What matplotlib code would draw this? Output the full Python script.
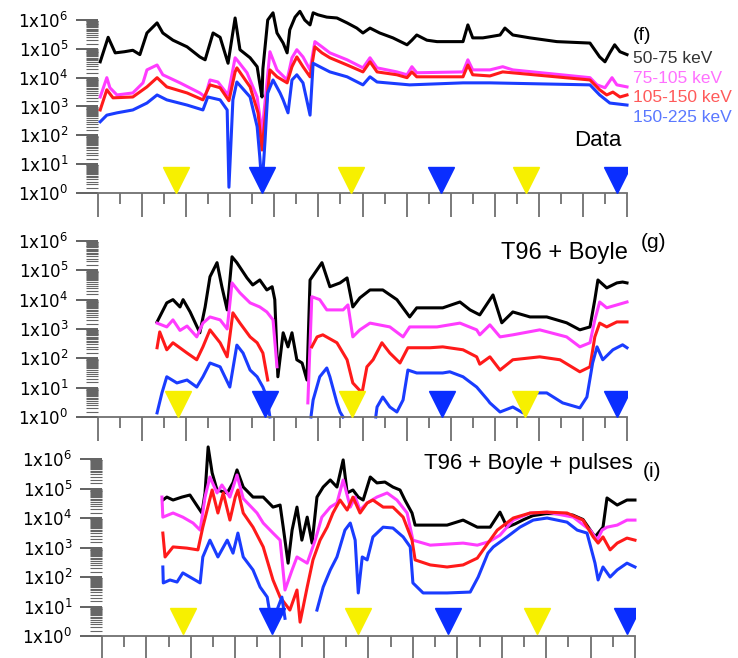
"""
Three stacked panels of energetic particle flux (log scale) for four energy
channels: observed data, T96 + Boyle model, and T96 + Boyle + pulses model.
Values are log10(flux) read off the original figure; time axis is in hours.
"""
import numpy as np
import matplotlib
matplotlib.use("Agg")
import matplotlib.pyplot as plt
from matplotlib.ticker import LogLocator, MultipleLocator, NullFormatter, FixedLocator

nan = float("nan")

CHANNELS = ["50-75 keV", "75-105 keV", "105-150 keV", "150-225 keV"]

# ---------------- panel (f): Data ----------------
F_50 = [(0.05, 4.55), (0.23, 5.4), (0.39, 4.86), (0.6, 4.9), (0.79, 4.95), (0.95, 4.8), (1.11, 5.55),
        (1.34, 5.9), (1.47, 5.55), (1.70, 5.3), (2.02, 5.07), (2.31, 4.72), (2.43, 4.62), (2.61, 5.55),
        (2.77, 5.4), (2.95, 4.5), (3.11, 6.07), (3.22, 4.97), (3.45, 4.69), (3.61, 4.38), (3.67, 3.8),
        (3.72, 3.33), (3.74, 4.3), (3.85, 6.0), (3.97, 6.25), (4.06, 5.55), (4.20, 5.2), (4.29, 4.86),
        (4.35, 5.66), (4.47, 6.1), (4.58, 6.3), (4.69, 6.0), (4.81, 5.83), (4.88, 6.25), (4.99, 6.18),
        (5.19, 6.1), (5.42, 6.07), (5.65, 5.9), (5.87, 5.72), (6.01, 5.55), (6.17, 5.72), (6.39, 5.55),
        (6.69, 5.38), (7.01, 5.14), (7.12, 5.3), (7.23, 5.48), (7.46, 5.3), (7.69, 5.25), (8.28, 5.25),
        (8.39, 5.83), (8.50, 5.38), (8.73, 5.38), (8.89, 5.42), (9.12, 5.48), (9.23, 5.72), (9.41, 5.48),
        (9.80, 5.38), (10.41, 5.25), (11.16, 5.2), (11.38, 4.72), (11.50, 4.55), (11.61, 4.86),
        (11.72, 5.14), (11.84, 4.9), (12.0, 4.8)]
F_75 = [(0.05, 3.33), (0.20, 4.0), (0.27, 3.65), (0.43, 3.4), (0.79, 3.47), (1.02, 3.82), (1.11, 4.27),
        (1.34, 4.44), (1.47, 4.1), (1.86, 3.82), (2.31, 3.47), (2.43, 3.33), (2.54, 3.92), (2.72, 3.85),
        (2.95, 3.4), (3.11, 4.69), (3.15, 4.62), (3.38, 4.17), (3.61, 3.33), (3.72, 2.08), (3.83, 3.8),
        (3.90, 4.9), (4.06, 4.27), (4.29, 3.92), (4.40, 4.69), (4.51, 4.97), (4.65, 4.72), (4.81, 4.27),
        (4.92, 5.25), (5.08, 5.07), (5.26, 4.86), (5.65, 4.62), (6.01, 4.34), (6.17, 4.69), (6.33, 4.34),
        (6.78, 4.2), (7.01, 4.1), (7.12, 4.38), (7.23, 4.17), (8.28, 4.2), (8.39, 4.62), (8.50, 4.27),
        (8.89, 4.27), (9.18, 4.38), (9.41, 4.27), (11.16, 4.0), (11.32, 3.75), (11.50, 3.65),
        (11.66, 4.0), (11.77, 3.75), (12.0, 3.68)]
F_105 = [(0.05, 2.88), (0.20, 3.58), (0.34, 3.3), (0.79, 3.33), (1.11, 3.68), (1.34, 4.0), (1.56, 3.68),
         (2.02, 3.47), (2.38, 3.23), (2.54, 3.75), (2.77, 3.65), (2.97, 3.2), (3.11, 4.2), (3.15, 4.34),
         (3.45, 3.68), (3.63, 2.78), (3.72, 1.49), (3.83, 3.23), (3.90, 4.27), (4.06, 4.03), (4.29, 3.82),
         (4.40, 4.38), (4.51, 4.72), (4.65, 4.38), (4.81, 4.03), (4.92, 5.07), (5.08, 4.86), (5.26, 4.69),
         (5.65, 4.44), (6.01, 4.2), (6.17, 4.55), (6.33, 4.2), (6.78, 4.1), (7.01, 4.0), (7.12, 4.2),
         (7.23, 4.03), (8.28, 4.03), (8.39, 4.44), (8.50, 4.1), (8.89, 4.06), (9.18, 4.2), (11.16, 3.92),
         (11.38, 3.58), (11.54, 3.4), (11.68, 3.5), (11.84, 3.33), (12.0, 3.4)]
F_150 = [(0.05, 2.47), (0.20, 2.7), (0.43, 2.78), (0.79, 2.88), (1.11, 3.12), (1.34, 3.4), (1.56, 3.23),
         (2.02, 3.05), (2.38, 2.88), (2.49, 3.33), (2.77, 3.23), (2.93, 2.88), (2.97, 0.2), (3.06, 3.23),
         (3.15, 3.85), (3.45, 3.33), (3.61, 2.3), (3.67, 1.25), (3.72, 0.2), (3.79, 1.84), (3.85, 3.47),
         (3.97, 3.92), (4.13, 3.47), (4.20, 3.23), (4.31, 2.78), (4.40, 3.92), (4.51, 4.1), (4.65, 3.82),
         (4.81, 2.7), (4.88, 4.5), (5.03, 4.38), (5.26, 4.2), (5.65, 4.03), (6.01, 3.75), (6.17, 4.03),
         (6.33, 3.85), (7.07, 3.75), (8.28, 3.82), (8.89, 3.82), (11.16, 3.75), (11.38, 3.4),
         (11.61, 3.12), (12.0, 3.05)]

# ---------------- panel (g): T96 + Boyle ----------------
G_50 = [(1.34, 3.24), (1.56, 3.89), (1.70, 4.0), (1.86, 3.75), (1.93, 4.0), (2.09, 3.58), (2.31, 2.87),
        (2.43, 3.75), (2.54, 4.78), (2.70, 5.26), (2.81, 4.44), (2.93, 3.65), (3.04, 5.46), (3.15, 5.26),
        (3.38, 4.74), (3.51, 4.5), (3.67, 4.67), (3.83, 4.33), (3.95, 4.44), (4.01, 4.0), (4.08, 1.37),
        (4.20, 2.87), (4.31, 2.39), (4.40, 2.87), (4.51, 1.95), (4.63, 1.84), (4.74, 1.26), (4.81, 4.67),
        (4.97, 5.02), (5.08, 5.26), (5.26, 4.44), (5.49, 4.57), (5.65, 4.74), (5.78, 3.75), (5.94, 4.06),
        (6.17, 4.33), (6.46, 4.33), (6.78, 4.0), (7.07, 3.41), (7.23, 3.72), (7.82, 3.72), (8.21, 3.92),
        (8.44, 3.65), (8.66, 3.48), (8.96, 4.16), (9.16, 3.21), (9.41, 3.58), (9.80, 3.41),
        (10.18, 3.41), (10.63, 3.21), (10.93, 2.97), (11.16, 3.07), (11.27, 4.0), (11.34, 4.67),
        (11.54, 4.4), (11.77, 4.57), (11.90, 4.6), (12.0, 4.57)]
G_75 = [(1.34, 3.2), (1.56, 3.07), (1.70, 3.31), (1.86, 2.95), (2.02, 3.1), (2.24, 2.73), (2.38, 3.2),
        (2.54, 3.41), (2.77, 3.31), (2.93, 3.0), (3.04, 4.57), (3.22, 4.23), (3.45, 3.89), (3.67, 3.75),
        (3.83, 3.58), (3.97, 3.31), (4.06, 1.71), (4.10, nan), (4.76, 0.48), (4.85, 4.1), (5.03, 4.0),
        (5.19, 3.65), (5.56, 3.65), (5.67, 3.82), (5.78, 2.73), (5.94, 2.97), (6.17, 3.2), (6.62, 3.07),
        (6.92, 2.73), (7.07, 3.07), (7.69, 3.07), (8.21, 3.2), (8.59, 2.97), (8.66, 2.8), (8.89, 3.14),
        (9.12, 2.73), (9.41, 2.8), (10.02, 2.97), (10.63, 2.73), (10.93, 2.39), (11.16, 2.53),
        (11.27, 3.31), (11.38, 3.92), (11.54, 3.72), (11.77, 3.82), (12.0, 3.92)]
G_105 = [(1.34, 2.36), (1.40, 2.9), (1.56, 2.29), (1.70, 2.53), (2.02, 2.18), (2.24, 1.95), (2.38, 2.39),
         (2.54, 2.97), (2.77, 2.53), (2.93, 2.05), (3.06, 3.55), (3.22, 3.2), (3.45, 2.73), (3.61, 2.53),
         (3.74, 2.18), (3.85, 1.26), (3.90, nan), (4.85, 2.39), (4.97, 2.73), (5.10, 2.8), (5.42, 2.53),
         (5.65, 1.95), (5.78, 1.16), (5.99, 0.82), (6.10, 1.71), (6.24, 1.95), (6.44, 2.53), (6.62, 2.18),
         (6.85, 1.84), (7.03, 2.36), (7.53, 2.36), (7.82, 2.39), (8.28, 2.29), (8.59, 2.05), (8.66, 1.8),
         (8.89, 2.05), (9.12, 1.6), (9.41, 1.95), (10.02, 2.05), (10.48, 1.95), (10.93, 1.54),
         (11.16, 1.71), (11.27, 2.73), (11.38, 3.2), (11.54, 3.07), (11.77, 3.24), (12.0, 3.24)]
G_150 = [(1.34, 0.14), (1.45, 0.82), (1.56, 1.37), (1.79, 1.16), (2.02, 1.26), (2.24, 1.02), (2.38, 1.37),
         (2.54, 1.84), (2.77, 1.71), (2.99, 1.02), (3.15, 2.45), (3.29, 2.18), (3.45, 1.6), (3.61, 1.37),
         (3.74, 1.02), (3.83, 0.68), (3.90, 0.0), (3.95, nan), (4.83, 0.0), (4.88, 0.58), (5.03, 1.37),
         (5.19, 1.67), (5.26, 1.37), (5.42, 0.48), (5.49, 0.17), (5.56, 0.0), (5.60, nan), (6.30, 0.0),
         (6.33, 0.34), (6.46, 0.68), (6.62, 0.34), (6.78, 0.17), (6.92, 0.58), (7.03, 1.6), (7.23, 1.5),
         (7.82, 1.5), (7.98, 1.54), (8.28, 1.37), (8.59, 1.02), (8.84, 0.58), (8.89, 0.48), (9.12, 0.17),
         (9.41, 0.34), (9.64, 0.14), (9.95, 0.82), (10.18, 0.82), (10.54, 0.48), (10.93, 0.31),
         (11.09, 0.68), (11.22, 1.84), (11.32, 2.39), (11.45, 1.95), (11.68, 2.29), (11.90, 2.46),
         (12.0, 2.36)]

# ---------------- panel (i): T96 + Boyle + pulses ----------------
I_50 = [(1.37, 4.61), (1.46, 4.71), (1.60, 4.61), (1.80, 4.71), (1.98, 4.78), (2.16, 4.37), (2.25, 4.17),
        (2.32, 4.85), (2.39, 6.41), (2.48, 5.53), (2.59, 4.95), (2.82, 4.85), (2.95, 5.2), (3.04, 5.63),
        (3.18, 5.05), (3.40, 4.71), (3.63, 4.71), (3.85, 4.37), (4.01, 4.44), (4.08, 3.69), (4.19, 2.47),
        (4.28, 3.59), (4.39, 4.37), (4.50, 3.25), (4.62, 4.03), (4.73, 3.15), (4.84, 4.71), (4.98, 5.05),
        (5.14, 5.29), (5.29, 5.05), (5.43, 5.97), (5.52, 4.85), (5.65, 4.95), (5.77, 4.71), (5.88, 4.61),
        (6.04, 5.39), (6.19, 5.19), (6.37, 5.22), (6.55, 5.05), (6.71, 4.95), (6.82, 4.61), (6.98, 4.17),
        (7.05, 3.76), (7.39, 3.76), (7.77, 3.76), (8.13, 3.93), (8.45, 3.69), (8.74, 3.69), (8.96, 4.2),
        (9.12, 3.69), (9.3, 3.8), (9.5, 3.95), (9.7, 4.08), (10.0, 4.15), (10.3, 4.15), (10.6, 4.1),
        (10.83, 3.95), (11.10, 3.36), (11.28, 3.69), (11.37, 4.68), (11.60, 4.44), (11.82, 4.61),
        (12.0, 4.61)]
I_75 = [(1.35, 4.71), (1.37, 4.03), (1.60, 4.17), (1.82, 4.03), (2.05, 3.83), (2.21, 3.59), (2.32, 4.71),
        (2.43, 5.39), (2.59, 4.85), (2.70, 5.12), (2.88, 4.71), (3.04, 5.46), (3.18, 4.66), (3.49, 4.17),
        (3.63, 3.83), (3.85, 3.49), (4.01, 3.25), (4.12, 1.56), (4.28, 2.24), (4.39, 2.68), (4.62, 2.47),
        (4.80, 3.25), (4.95, 4.03), (5.14, 4.37), (5.29, 4.51), (5.43, 5.29), (5.59, 4.37), (5.70, 4.71),
        (5.81, 4.27), (5.97, 4.51), (6.19, 4.71), (6.42, 4.85), (6.64, 4.61), (6.87, 4.17), (7.00, 3.25),
        (7.39, 3.08), (8.13, 3.15), (8.45, 3.08), (8.72, 3.2), (8.96, 3.42), (9.26, 3.93), (9.64, 4.17),
        (10.02, 4.2), (10.61, 4.03), (10.99, 3.59), (11.15, 3.25), (11.26, 3.59), (11.37, 3.69),
        (11.60, 3.76), (11.82, 3.93), (12.0, 3.93)]
I_105 = [(1.37, 3.49), (1.42, 2.68), (1.60, 3.02), (1.91, 2.98), (2.16, 2.92), (2.27, 3.69), (2.48, 4.95),
         (2.61, 4.17), (2.73, 4.85), (2.88, 3.93), (3.00, 4.71), (3.06, 4.95), (3.18, 4.17), (3.40, 3.69),
         (3.63, 3.02), (3.85, 1.9), (4.01, 1.32), (4.23, 0.88), (4.39, 1.56), (4.46, 0.47), (4.62, 1.66),
         (4.75, 2.58), (4.91, 3.25), (5.07, 3.69), (5.20, 4.17), (5.36, 4.61), (5.52, 4.27), (5.65, 4.71),
         (5.81, 4.17), (5.97, 4.51), (6.10, 4.61), (6.33, 4.37), (6.55, 4.37), (6.78, 4.03), (6.98, 3.25),
         (7.05, 2.58), (7.39, 2.41), (7.77, 2.34), (8.13, 2.41), (8.45, 2.64), (8.69, 3.15), (8.90, 3.59),
         (9.26, 4.0), (9.64, 4.17), (10.02, 4.2), (10.47, 4.17), (10.83, 3.93), (11.06, 3.36),
         (11.17, 3.15), (11.28, 3.36), (11.44, 2.92), (11.60, 3.15), (11.82, 3.32), (12.0, 3.25)]
I_150 = [(1.37, 2.34), (1.38, 1.8), (1.53, 1.9), (1.69, 1.83), (1.82, 2.14), (1.98, 2.0), (2.21, 1.8),
         (2.27, 2.68), (2.43, 3.25), (2.61, 2.68), (2.82, 3.25), (2.95, 2.81), (3.06, 3.49), (3.18, 2.68),
         (3.40, 2.24), (3.56, 1.66), (3.72, 1.32), (3.83, 0.31), (3.94, 0.88), (4.05, 1.32), (4.12, 0.6),
         (4.15, nan), (4.84, 0.88), (4.98, 1.66), (5.14, 2.24), (5.29, 2.68), (5.47, 3.59), (5.59, 3.83),
         (5.70, 3.25), (5.77, 1.46), (5.86, 2.68), (5.97, 2.58), (6.10, 3.36), (6.33, 3.69), (6.55, 3.66),
         (6.78, 3.36), (6.94, 3.02), (7.00, 1.8), (7.23, 1.46), (7.77, 1.46), (8.29, 1.49), (8.47, 2.0),
         (8.69, 2.81), (8.81, 3.02), (9.12, 3.36), (9.41, 3.69), (9.71, 3.93), (10.02, 4.0), (10.47, 3.86),
         (10.70, 3.59), (10.92, 3.49), (11.10, 2.47), (11.17, 1.9), (11.28, 2.34), (11.44, 2.0),
         (11.60, 2.24), (11.82, 2.47), (12.0, 2.34)]

# orbit markers (hours) on each panel
F_YELLOW, F_BLUE = [1.77, 5.74, 9.70], [3.72, 7.78, 11.78]
G_YELLOW, G_BLUE = [1.81, 5.76, 9.68], [3.79, 7.80, 11.77]
I_YELLOW, I_BLUE = [1.82, 5.77, 9.80], [3.83, 7.79, 11.82]

# ----------------------------- STYLE KNOBS -----------------------------
LINE_COLORS = ["#000000", "#ff3cff", "#ff1a1a", "#1a3cff"]
TEXT_COLORS = ["#333333", "#ff70ff", "#ff5a5a", "#5a78ff"]
YELLOW, BLUE = "#f7f000", "#0a2eff"
TICK_GREY = "#707070"
FONT = "Liberation Sans"
LW = 2.2

plt.rcParams["font.family"] = FONT
plt.rcParams["mathtext.default"] = "regular"

fig = plt.figure(figsize=(7.38, 6.58), dpi=100)

panels = [
    dict(rect=[0.1328, 0.7067, 0.7168, 0.2629], series=[F_50, F_75, F_105, F_150],
         yellow=F_YELLOW, blue=F_BLUE, tri=0.45),
    dict(rect=[0.1328, 0.3663, 0.7168, 0.2675], series=[G_50, G_75, G_105, G_150],
         yellow=G_YELLOW, blue=G_BLUE, tri=0.44),
    dict(rect=[0.1382, 0.0334, 0.7222, 0.2690], series=[I_50, I_75, I_105, I_150],
         yellow=I_YELLOW, blue=I_BLUE, tri=0.50),
]

axes = []
for p in panels:
    ax = fig.add_axes(p["rect"])
    for pts, c in zip(p["series"], LINE_COLORS):
        t, lf = zip(*pts)
        ax.plot(t, 10 ** np.array(lf), color=c, lw=LW, clip_on=False, zorder=2)
    ty = 10 ** p["tri"]
    ax.plot(p["yellow"], [ty] * 3, ls="none", marker="v", ms=19, color=YELLOW, mec=YELLOW, zorder=3)
    ax.plot(p["blue"], [ty] * 3, ls="none", marker="v", ms=19, color=BLUE, mec=BLUE, zorder=3)

    ax.set_yscale("log")
    ax.set_ylim(1, 1e6)
    ax.set_xlim(0, 12)
    ax.yaxis.set_major_locator(FixedLocator([10.0 ** k for k in range(7)]))
    ax.yaxis.set_minor_locator(LogLocator(base=10, subs=np.arange(1.5, 10, 0.5), numticks=20))
    ax.yaxis.set_minor_formatter(NullFormatter())
    ax.set_yticklabels([r"1x10$^{%d}$" % k for k in range(7)], family="DejaVu Sans", fontsize=12)
    ax.xaxis.set_major_locator(MultipleLocator(1))
    ax.xaxis.set_minor_locator(MultipleLocator(0.5))
    ax.set_xticklabels([])
    ax.tick_params(axis="x", which="major", direction="out", length=17, width=1.3, color=TICK_GREY)
    ax.tick_params(axis="x", which="minor", direction="out", length=8, width=1.3, color=TICK_GREY)
    ax.tick_params(axis="y", which="major", direction="out", length=16, width=1.3, color="#555555", pad=5)
    ax.tick_params(axis="y", which="minor", direction="out", length=9, width=0.8, color="#666666")
    ax.spines[["top", "right", "left"]].set_visible(False)
    ax.spines["bottom"].set_color(TICK_GREY)
    ax.spines["bottom"].set_linewidth(1.3)
    ax.patch.set_alpha(0)
    axes.append(ax)

ax1, ax2, ax3 = axes
ax1.text(1.011, 0.913, "(f)", transform=ax1.transAxes, fontsize=14, va="center", ha="left")
for k, (name, c) in enumerate(zip(CHANNELS, TEXT_COLORS)):
    ax1.text(1.011, 0.775 - 0.112 * k, name, transform=ax1.transAxes, color=c, fontsize=12.5,
             va="center", ha="left")
ax1.text(0.945, 0.306, "Data", transform=ax1.transAxes, fontsize=16, va="center", ha="center")

ax2.text(1.002, 0.93, "T96 + Boyle", transform=ax2.transAxes, fontsize=17, va="center", ha="right")
ax2.text(1.026, 0.99, "(g)", transform=ax2.transAxes, fontsize=15, va="center", ha="left")

ax3.text(0.996, 0.977, "T96 + Boyle + pulses", transform=ax3.transAxes, fontsize=16,
         va="center", ha="right")
ax3.text(1.015, 0.927, "(i)", transform=ax3.transAxes, fontsize=15, va="center", ha="left")

fig.savefig("out.png", dpi=100)
